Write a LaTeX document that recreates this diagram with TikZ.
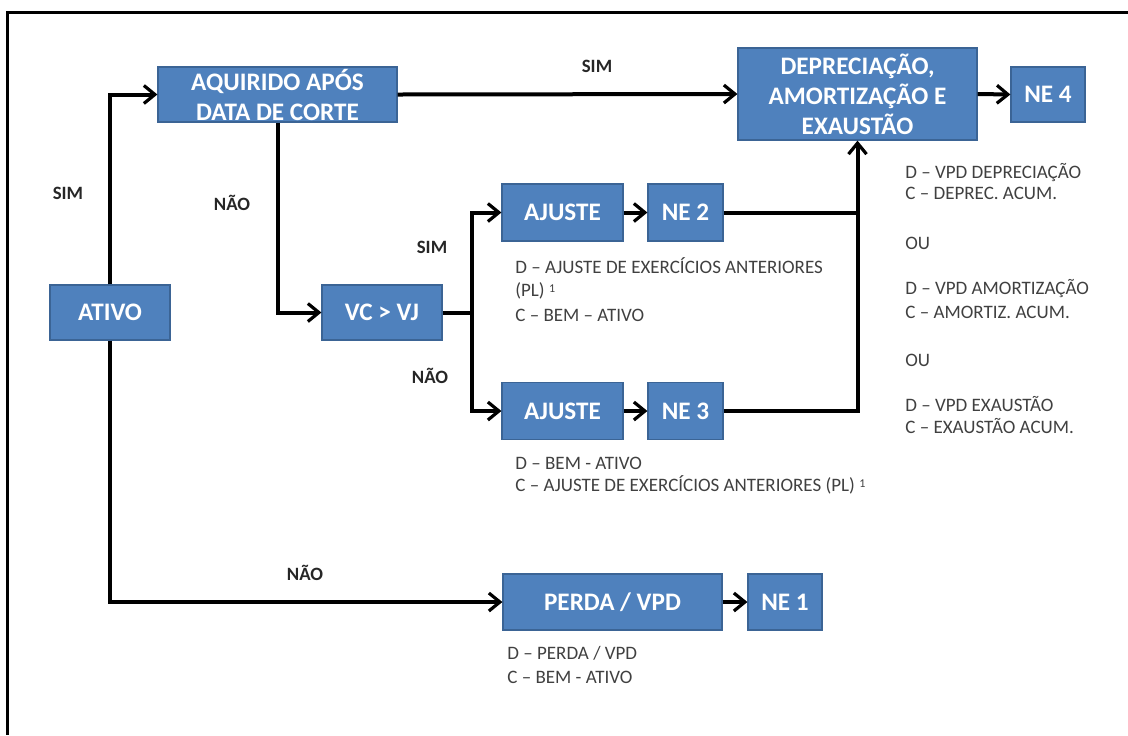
\documentclass[tikz,border=0pt]{standalone}
\usepackage{fontspec}
\setmainfont{Carlito}
\usetikzlibrary{arrows.meta}
\definecolor{boxblue}{HTML}{4F81BD}
\definecolor{boxedge}{HTML}{3B6495}
\definecolor{annot}{HTML}{404040}
\begin{document}
\begin{tikzpicture}[x=0.5pt,y=-0.5pt,
  box/.style={draw=boxedge, line width=0.6pt, fill=boxblue, text=white,
    font=\fontsize{12.6}{15}\selectfont\bfseries, align=center, inner sep=0pt},
  arr/.style={line width=2pt, -{Straight Barb[length=5.5pt,width=9pt,line width=1.6pt]}},
  plain/.style={line width=2pt},
  lab/.style={font=\fontsize{9.4}{11}\selectfont\bfseries, text=black!85, inner sep=0pt},
  note/.style={font=\fontsize{9.5}{11}\selectfont, text=annot, anchor=base west, inner sep=0pt}]
\useasboundingbox (0,0) rectangle (1128,735);
\draw[line width=1.5pt] (1128,12) -- (7,12) -- (7,735);

% boxes
\node[box, minimum width=60pt, minimum height=27.5pt] (ativo) at (110,312.5) {ATIVO};
\node[box, minimum width=119.5pt, minimum height=27.5pt] (aq) at (277.5,94.5) {AQUIRIDO APÓS\\DATA DE CORTE};
\node[box, minimum width=60pt, minimum height=27.5pt] (vc) at (382,312.5) {VC > VJ};
\node[box, minimum width=60.5pt, minimum height=28.5pt] (aj1) at (562.5,212.5) {AJUSTE};
\node[box, minimum width=37.5pt, minimum height=28.5pt] (ne2) at (685.5,212.5) {NE 2};
\node[box, minimum width=60.5pt, minimum height=28.5pt] (aj2) at (562.5,411) {AJUSTE};
\node[box, minimum width=37.5pt, minimum height=28.5pt] (ne3) at (685.5,411) {NE 3};
\node[box, minimum width=119.5pt, minimum height=46pt] (dep) at (857.5,94) {DEPRECIAÇÃO,\\AMORTIZAÇÃO E\\EXAUSTÃO};
\node[box, minimum width=37pt, minimum height=27.5pt] (ne4) at (1048,94.5) {NE 4};
\node[box, minimum width=109.5pt, minimum height=28pt] (perda) at (612.5,602) {PERDA / VPD};
\node[box, minimum width=37pt, minimum height=28pt] (ne1) at (785,602) {NE 1};
\coordinate (br) at (472,312.5);

% connectors
\draw[arr] (ativo.north) |- (aq.west);
\draw[arr] (ativo.south) |- (perda.west);
\draw[arr] (aq.south) |- (vc.west);
\draw[arr] (aq.east) -- (dep.west);
\draw[arr] (dep.east) -- (ne4.west);
\draw[plain] (vc.east) -- (br);
\draw[arr] (br) |- (aj1.west);
\draw[arr] (br) |- (aj2.west);
\draw[arr] (aj1.east) -- (ne2.west);
\draw[arr] (aj2.east) -- (ne3.west);
\draw[arr] (perda.east) -- (ne1.west);
\draw[plain] (ne2.east) -- (ne2.east -| dep.south);
\draw[arr] (ne3.east) -| (dep.south);

% labels
\node[lab] (l1) at (597,66) {SIM};
\node[lab] (l2) at (68,193) {SIM};
\node[lab] (l3) at (232,203) {NÃO};
\node[lab] (l4) at (432,247) {SIM};
\node[lab] (l5) at (430,376) {NÃO};
\node[lab] (l6) at (305,573) {NÃO};

% notes
\node[note] (n1) at (515,273) {D – AJUSTE DE EXERCÍCIOS ANTERIORES};
\node[note] (n2) at (515,296) {(PL) {\fontsize{6}{7}\selectfont\raisebox{0.6ex}{1}}};
\node[note] (n3) at (515,321) {C – BEM – ATIVO};
\node[note] (n4) at (515,469) {D – BEM - ATIVO};
\node[note] (n5) at (515,491) {C – AJUSTE DE EXERCÍCIOS ANTERIORES (PL) {\fontsize{6}{7}\selectfont\raisebox{0.6ex}{1}}};
\node[note] (n6) at (507,659) {D – PERDA / VPD};
\node[note] (n7) at (507,683) {C – BEM - ATIVO};
\node[note] (r1) at (905,178) {D – VPD DEPRECIAÇÃO};
\node[note] (r2) at (905,199) {C – DEPREC. ACUM.};
\node[note] (r3) at (905,249) {OU};
\node[note] (r4) at (905,294) {D – VPD AMORTIZAÇÃO};
\node[note] (r5) at (905,318) {C – AMORTIZ. ACUM.};
\node[note] (r6) at (905,366) {OU};
\node[note] (r7) at (905,411) {D – VPD EXAUSTÃO};
\node[note] (r8) at (905,433) {C – EXAUSTÃO ACUM.};
\end{tikzpicture}
\end{document}
